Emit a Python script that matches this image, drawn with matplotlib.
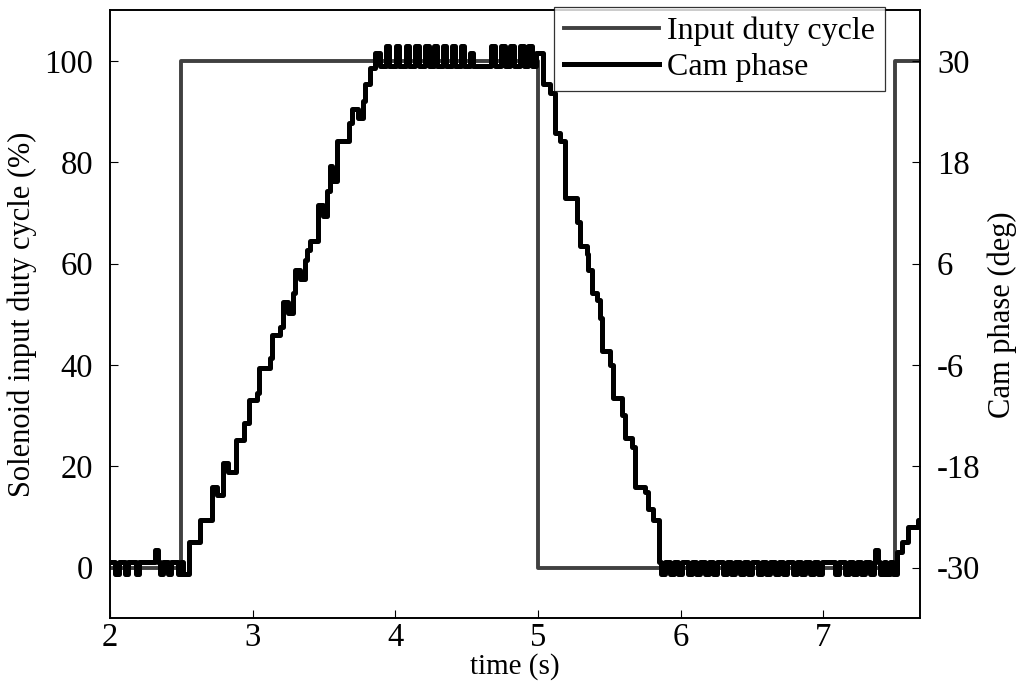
import matplotlib
matplotlib.use("Agg")
import matplotlib.pyplot as plt

plt.rcParams['font.family'] = ['Liberation Serif', 'DejaVu Serif']
plt.rcParams['axes.unicode_minus'] = False

# input duty cycle (%) as steps
duty_t = [2.0, 2.5, 5.0, 7.5, 7.68]
duty_v = [0, 100, 0, 100, 100]

# cam phase (deg), levels of the limit-cycle wiggle
low_base, low_dip = -29.3, -30.8
high_base, high_peak = 29.4, 31.8

# start, before the step: (t, deg) breakpoints
start_t = [2.000, 2.034, 2.060, 2.104, 2.130, 2.181, 2.207, 2.313, 2.339, 2.348,
           2.374, 2.404, 2.430, 2.474, 2.500, 2.509]
start_v = [-29.3, -30.8, -29.3, -30.8, -29.3, -30.8, -29.3, -27.9, -29.3, -30.8,
           -29.3, -30.8, -29.3, -30.8, -29.3, -30.8]

# rising ramp
up_t = [2.552, 2.628, 2.712, 2.747, 2.789, 2.831, 2.887, 2.943, 2.978, 3.034,
        3.048, 3.119, 3.133, 3.189, 3.210, 3.245, 3.280, 3.294, 3.329, 3.364,
        3.378, 3.399, 3.455, 3.490, 3.518, 3.539, 3.560, 3.595, 3.679, 3.700,
        3.736, 3.771, 3.785, 3.820, 3.855, 3.890]
up_v = [-27.0, -24.3, -20.4, -21.4, -17.6, -18.7, -14.9, -12.9, -10.2, -9.3,
        -6.3, -5.2, -2.5, -1.5, 1.4, 0.2, 2.5, 5.2, 4.2, 6.4,
        7.6, 8.7, 12.9, 11.7, 14.6, 17.6, 15.8, 20.5, 22.6, 24.3,
        23.3, 25.3, 27.3, 29.2, 31.0, 29.4]

# peaks on the top plateau
top_peaks = [3.946, 4.016, 4.086, 4.150, 4.220, 4.283, 4.346, 4.409, 4.472,
             4.535, 4.683, 4.753, 4.816, 4.886, 4.942]

# falling ramp
down_t = [4.985, 5.033, 5.082, 5.117, 5.152, 5.187, 5.271, 5.292, 5.341, 5.348,
          5.377, 5.412, 5.433, 5.447, 5.503, 5.524, 5.587, 5.608, 5.657, 5.678,
          5.749, 5.770, 5.804, 5.850]
down_v = [31.0, 27.3, 26.2, 21.5, 20.5, 13.8, 10.9, 8.1, 7.2, 5.2,
          2.5, 1.7, -0.4, -4.3, -6.0, -9.9, -11.9, -14.6, -15.7, -20.4,
          -21.1, -23.1, -24.3, -29.3]

# dips on the bottom plateau
bottom_dips = [5.875, 5.938, 5.994, 6.064, 6.120, 6.183, 6.239, 6.309, 6.365,
               6.429, 6.485, 6.555, 6.611, 6.674, 6.730, 6.801, 6.857, 6.920,
               6.976, 7.095, 7.165, 7.221, 7.277, 7.341, 7.411, 7.453, 7.502]
bottom_spike = 7.376

# last rise after the second step
end_t = [7.515, 7.550, 7.592, 7.662, 7.68]
end_v = [-28.1, -27.0, -25.2, -24.3, -24.3]


def wiggle(centres, base, level, half=0.013):
    t, v = [], []
    for c in centres:
        t += [c - half, c + half]
        v += [level, base]
    return t, v


pk_t, pk_v = wiggle(top_peaks, high_base, high_peak)
pk_v[top_peaks.index(4.535) * 2] = 31.0
dp_t, dp_v = wiggle(bottom_dips, low_base, low_dip)
dp_t += [bottom_spike - 0.01, bottom_spike + 0.01]
dp_v += [-27.9, low_base]
order = sorted(range(len(dp_t)), key=lambda i: dp_t[i])
dp_t = [dp_t[i] for i in order]
dp_v = [dp_v[i] for i in order]

cam_t = start_t + up_t + pk_t + down_t + dp_t + end_t
cam_v = start_v + up_v + pk_v + down_v + dp_v + end_v

fig = plt.figure(figsize=(10.18, 6.87), dpi=100)
ax = fig.add_axes([0.108, 0.100, 0.796, 0.885])
ax2 = ax.twinx()

l1, = ax.plot(duty_t, duty_v, drawstyle='steps-post', color='#404040', lw=2.8,
              label='Input duty cycle')
l2, = ax2.plot(cam_t, cam_v, drawstyle='steps-post', color='black', lw=3.6,
               label='Cam phase', solid_joinstyle='round')

ax.set_xlim(2, 7.68)
ax.set_ylim(-10, 110)
ax2.set_ylim(-36, 36)
ax.set_yticks([0, 20, 40, 60, 80, 100])
ax2.set_yticks([-30, -18, -6, 6, 18, 30])
ax.set_xticks([2, 3, 4, 5, 6, 7])

for a in (ax, ax2):
    a.tick_params(direction='in', labelsize=23.5, length=6, width=0.8)
    for s in a.spines.values():
        s.set_linewidth(1.2)
ax.tick_params(axis='x', pad=3)
ax.tick_params(axis='y', pad=12)
ax2.tick_params(axis='y', pad=12)

ax.set_xlabel('time (s)', fontsize=21, labelpad=0)
ax.set_ylabel('Solenoid input duty cycle (%)', fontsize=22, labelpad=5)
ax2.set_ylabel('Cam phase (deg)', fontsize=22, labelpad=5)

leg = ax2.legend(handles=[l1, l2], loc='upper right',
                 bbox_to_anchor=(885 / 1018, 1 - 7 / 687),
                 bbox_transform=fig.transFigure, fontsize=23, frameon=True,
                 fancybox=False, edgecolor='black', handlelength=3.0,
                 handletextpad=0.25, borderpad=0.3, labelspacing=0.2,
                 borderaxespad=0)
leg.get_frame().set_linewidth(0.9)

fig.savefig('out.png', dpi=100)
